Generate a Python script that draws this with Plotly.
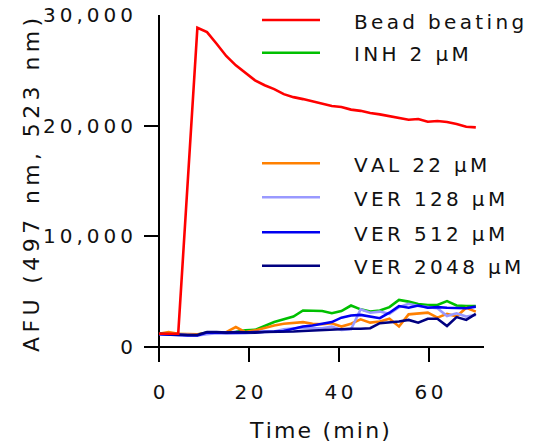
import plotly.graph_objects as go

# ---------------- data ----------------
time_min = [0, 2.13, 4.27, 6.4, 8.53, 10.67, 12.8, 14.93, 17.07, 19.2, 21.33, 23.47,
            25.6, 27.73, 29.87, 32, 34.13, 36.27, 38.4, 40.53, 42.67, 44.8, 46.93,
            49.07, 51.2, 53.33, 55.47, 57.6, 59.73, 61.87, 64, 66.13, 68.27, 70.4]

bead_beating = [1200, 1200, 1200, None, 28850, 28450, 27400, 26300, 25450, 24750, 24100,
                23650, 23300, 22850, 22580, 22400, 22190, 22000, 21770, 21680, 21450,
                21340, 21140, 21020, 20870, 20700, 20540, 20600, 20350, 20420, 20330,
                20150, 19900, 19850]
inh_2 = [1200, 1200, 1180, 1150, 1130, 1300, 1300, 1350, 1350, 1500, 1550, 1900, 2250,
         2500, 2750, 3300, 3300, 3250, 3050, 3250, 3750, 3400, 3200, 3300, 3600, 4250,
         4100, 3880, 3800, 3800, 4150, 3750, 3700, 3700]
val_22 = [1200, 1350, 1200, 1150, 1150, 1250, 1300, 1350, 1800, 1350, 1500, 1750, 1950,
          2100, 2150, 2250, 2100, 2050, 2150, 1850, 2100, 2500, 2200, 2300, 2550, 1850,
          2950, 3050, 3100, 2650, 3000, 2750, 3550, 3200]
ver_128 = [1150, 1100, 1100, 1100, 1050, 1150, 1250, 1200, 1200, 1250, 1300, 1350, 1400,
           1600, 1700, 1750, 1700, 1700, 1850, 1550, 1600, 3400, 3100, 3200, 3000, 3600,
           3900, 3700, 3600, 3500, 2800, 3050, 2750, 2900]
ver_512 = [1150, 1100, 1100, 1050, 1050, 1300, 1300, 1300, 1250, 1300, 1350, 1350, 1400,
           1450, 1650, 1850, 1950, 2100, 2250, 2650, 2850, 2900, 2750, 2600, 3100, 3700,
           3550, 3750, 3550, 3600, 3550, 3500, 3500, 3650]
ver_2048 = [1200, 1150, 1100, 1080, 1080, 1350, 1350, 1300, 1350, 1300, 1300, 1350, 1350,
            1400, 1400, 1450, 1500, 1550, 1600, 1600, 1650, 1650, 1700, 2150, 2200, 2300,
            2450, 2200, 2550, 2550, 1900, 2700, 2450, 3000]

series_names = ["Bead beating", "INH 2 \u00b5M", "VAL 22 \u00b5M", "VER 128 \u00b5M",
                "VER 512 \u00b5M", "VER 2048 \u00b5M"]
series_values = [bead_beating, inh_2, val_22, ver_128, ver_512, ver_2048]
series_colors = ["#ff0000", "#00c000", "#ff8000", "#9999ff", "#0000f0", "#000080"]

y_ticks = [0, 10000, 20000, 30000]
y_tick_labels = ["0", "10,000", "20,000", "30,000"]
x_ticks = [0, 20, 40, 60]
x_tick_labels = ["0", "20", "40", "60"]
x_title = "Time (min)"
y_title = "AFU (497 nm, 523 nm)"

# ---------------- styling helpers ----------------
FONT = "DejaVu Sans"
TXT = "#111111"


def spaced(s, sp="\u2006"):
    return sp.join(list(s))


W, H = 536, 446
L, R, T, B = 144, 52, 15, 84
PW, PH = W - L - R, H - T - B


def px_x(px):
    return (px - L) / PW


def px_y(py):
    return (H - B - py) / PH


fig = go.Figure()

draw_order = [1, 2, 3, 4, 5, 0]
for i in draw_order:
    fig.add_trace(go.Scatter(
        x=time_min, y=series_values[i], mode="lines", name=series_names[i],
        line=dict(color=series_colors[i], width=2.6), connectgaps=True,
        showlegend=False))

# manual legend (two groups)
legend_rows_px = [20, 52.7, 163.3, 197.3, 232.3, 265.7]
for name, color, py in zip(series_names, series_colors, legend_rows_px):
    fig.add_shape(type="line", xref="paper", yref="paper",
                  x0=px_x(262), x1=px_x(320), y0=px_y(py), y1=px_y(py),
                  line=dict(color=color, width=2.6))
    fig.add_annotation(xref="paper", yref="paper", x=px_x(352), y=px_y(py + 1.5),
                       xanchor="left", yanchor="middle", showarrow=False,
                       text=spaced(name), font=dict(family=FONT, size=20, color=TXT))

# axis titles
fig.add_annotation(xref="paper", yref="paper", x=px_x(319), y=px_y(430.5),
                   xanchor="center", yanchor="middle", showarrow=False,
                   text=spaced(x_title, "\u200a"), font=dict(family=FONT, size=22, color=TXT))
fig.add_annotation(xref="paper", yref="paper", x=px_x(31), y=px_y(185),
                   xanchor="center", yanchor="middle", showarrow=False, textangle=-90,
                   text=spaced(y_title, "\u2009"), font=dict(family=FONT, size=22, color=TXT))

fig.update_layout(
    width=W, height=H,
    margin=dict(l=L, r=R, t=T, b=B, pad=0, autoexpand=False),
    paper_bgcolor="white", plot_bgcolor="white",
    showlegend=False,
    xaxis=dict(range=[-3.333, 72.22], showgrid=False, showline=False, automargin=False,
               zeroline=True, zerolinecolor="#000000", zerolinewidth=2,
               ticks="inside", ticklen=15, tickwidth=2, tickcolor="#000000",
               tickvals=x_ticks, ticktext=[spaced(t) for t in x_tick_labels],
               tickfont=dict(family=FONT, size=20, color=TXT),
               ticklabelstandoff=16, fixedrange=True),
    yaxis=dict(range=[-1355, 30000], showgrid=False, showline=False, automargin=False,
               zeroline=True, zerolinecolor="#000000", zerolinewidth=2,
               ticks="inside", ticklen=15, tickwidth=2, tickcolor="#000000",
               tickvals=y_ticks, ticktext=[spaced(t, "\u2009") for t in y_tick_labels],
               tickfont=dict(family=FONT, size=20, color=TXT),
               ticklabelstandoff=10, fixedrange=True),
)

fig.write_html("out.html")
